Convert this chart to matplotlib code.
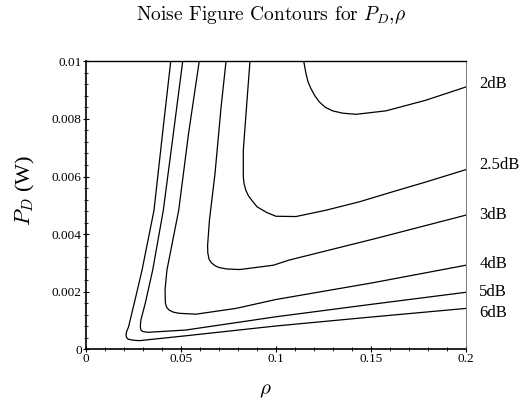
import matplotlib
matplotlib.use("Agg")
import matplotlib.pyplot as plt
from matplotlib.ticker import MultipleLocator, FixedLocator, FixedFormatter

plt.rcParams["mathtext.fontset"] = "cm"
plt.rcParams["font.family"] = "Liberation Serif"

# contour lines: rho values and P_D values (W)
rho_6db = [0.0446, 0.0403, 0.0358, 0.0295, 0.0254, 0.0224, 0.0213, 0.0211,
           0.0213, 0.0222, 0.0246, 0.0280, 0.0526, 0.1000, 0.1500, 0.2000]
pd_6db = [0.0100, 0.0075, 0.00483, 0.00275, 0.00160, 0.00078, 0.00060, 0.00050,
          0.00041, 0.00035, 0.00032, 0.00030, 0.00047, 0.00081, 0.00112, 0.00142]

rho_5db = [0.0509, 0.0460, 0.0407, 0.0351, 0.0312, 0.0289, 0.0286, 0.0288,
           0.0298, 0.0325, 0.0526, 0.1000, 0.1500, 0.2000]
pd_5db = [0.0100, 0.0075, 0.00483, 0.00275, 0.00160, 0.00102, 0.00080, 0.00068,
          0.00062, 0.00059, 0.00067, 0.00113, 0.00156, 0.00198]

rho_4db = [0.0596, 0.0540, 0.0488, 0.0426, 0.0416, 0.0418, 0.0425, 0.0438,
           0.0460, 0.0491, 0.0579, 0.0789, 0.1000, 0.1509, 0.2000]
pd_4db = [0.0100, 0.0075, 0.00483, 0.00275, 0.00206, 0.00160, 0.00145, 0.00136,
          0.00129, 0.00125, 0.00122, 0.00142, 0.00173, 0.00231, 0.00292]

rho_3db = [0.0737, 0.0711, 0.0679, 0.0650, 0.0640, 0.0641, 0.0648, 0.0661,
           0.0680, 0.0700, 0.0740, 0.0810, 0.0986, 0.1070, 0.1526, 0.2000]
pd_3db = [0.0100, 0.00841, 0.00610, 0.00450, 0.00360, 0.00335, 0.00312, 0.00300,
          0.00290, 0.00284, 0.00279, 0.00277, 0.00292, 0.00310, 0.00385, 0.00466]

rho_25db = [0.0863, 0.0841, 0.0828, 0.0828, 0.0832, 0.0841, 0.0855, 0.0872,
            0.0900, 0.0951, 0.1000, 0.1105, 0.1263, 0.1438, 0.1614, 0.1789,
            0.2000]
pd_25db = [0.0100, 0.00807, 0.00691, 0.00599, 0.00575, 0.00553, 0.00533, 0.00518,
           0.00495, 0.00475, 0.00462, 0.00461, 0.00483, 0.00512, 0.00547, 0.00581,
           0.00624]

rho_2db = [0.1146, 0.1158, 0.1168, 0.1184, 0.1205, 0.1228, 0.1260, 0.1298,
           0.1350, 0.1421, 0.1579, 0.1789, 0.2000]
pd_2db = [0.0100, 0.00957, 0.00930, 0.00905, 0.00880, 0.00859, 0.00840, 0.00828,
          0.00820, 0.00816, 0.00828, 0.00865, 0.00911]

contour_labels = ["2dB", "2.5dB", "3dB", "4dB", "5dB", "6dB"]
label_pd = [0.00921, 0.00640, 0.00466, 0.00295, 0.00200, 0.00125]

xtick_vals = [0, 0.05, 0.1, 0.15, 0.2]
xtick_labels = ["0", "0.05", "0.1", "0.15", "0.2"]
ytick_vals = [0, 0.002, 0.004, 0.006, 0.008, 0.01]
ytick_labels = ["0", "0.002", "0.004", "0.006", "0.008", "0.01"]

fig = plt.figure(figsize=(5.24, 4.01), dpi=100)
ax = fig.add_axes([0.1641, 0.1289, 0.7252, 0.7182])

for r, p in [(rho_6db, pd_6db), (rho_5db, pd_5db), (rho_4db, pd_4db),
             (rho_3db, pd_3db), (rho_25db, pd_25db), (rho_2db, pd_2db)]:
    ax.plot(r, p, color="black", lw=0.9)

for lab, p in zip(contour_labels, label_pd):
    ax.text(0.207, p, lab, fontsize=12, va="center", ha="left", clip_on=False)

ax.set_xlim(0, 0.2)
ax.set_ylim(0, 0.01)

ax.xaxis.set_major_locator(FixedLocator(xtick_vals))
ax.xaxis.set_major_formatter(FixedFormatter(xtick_labels))
ax.yaxis.set_major_locator(FixedLocator(ytick_vals))
ax.yaxis.set_major_formatter(FixedFormatter(ytick_labels))
ax.xaxis.set_minor_locator(MultipleLocator(0.01))
ax.yaxis.set_minor_locator(MultipleLocator(0.0004))

ax.tick_params(which="major", direction="inout", length=4, width=0.8,
               labelsize=9.5, pad=1)
ax.tick_params(which="minor", direction="inout", length=2.5, width=0.6)

for side in ["left", "bottom"]:
    ax.spines[side].set_linewidth(1.2)
ax.spines["top"].set_linewidth(1.0)
ax.spines["right"].set_linewidth(0.6)
ax.spines["right"].set_color("0.4")

ax.set_xlabel(r"$\rho$", fontsize=15, va="center")
ax.xaxis.set_label_coords(0.471, -0.142)
ax.set_ylabel(r"$P_D$ (W)", fontsize=16, va="center")
ax.yaxis.set_label_coords(-0.1605, 0.55)

fig.text(0.517, 0.963, r"Noise Figure Contours for $P_D$,$\rho$",
         fontfamily="cmr10", fontsize=14, ha="center", va="center")

fig.savefig("out.png", dpi=100)
